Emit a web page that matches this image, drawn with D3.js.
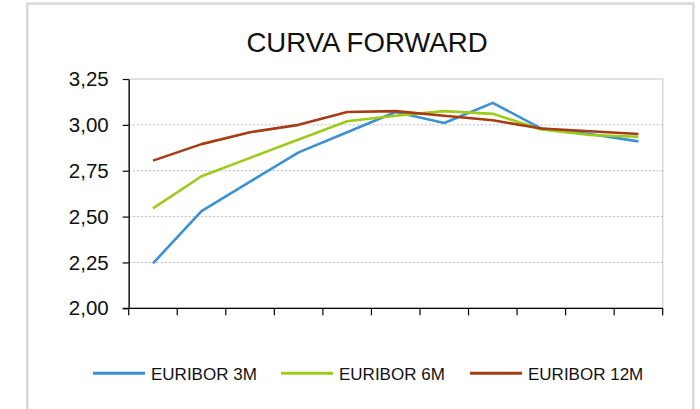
<!DOCTYPE html>
<html>
<head>
<meta charset="utf-8">
<script src="https://cdn.jsdelivr.net/npm/d3@7/dist/d3.min.js"></script>
<style>
  html, body { margin: 0; padding: 0; background: #ffffff; }
  svg { display: block; font-family: "Liberation Sans", Arial, sans-serif; }
</style>
</head>
<body>
<svg id="chart" width="700" height="409"></svg>
<script>
const title = "CURVA FORWARD";
const categories = ["1","2","3","4","5","6","7","8","9","10","11"];
const euribor3m  = [2.245, 2.53, 2.69, 2.85, 2.96, 3.07, 3.01, 3.12, 2.98, 2.95, 2.91];
const euribor6m  = [2.545, 2.72, 2.82, 2.92, 3.02, 3.05, 3.075, 3.06, 2.975, 2.945, 2.935];
const euribor12m = [2.805, 2.895, 2.96, 3.00, 3.07, 3.075, 3.05, 3.025, 2.98, 2.965, 2.95];
const seriesNames = ["EURIBOR 3M", "EURIBOR 6M", "EURIBOR 12M"];
const seriesColors = ["#3B91D1", "#9CCB19", "#A53C13"];
const yTicks = [2.00, 2.25, 2.50, 2.75, 3.00, 3.25];

const series = [euribor3m, euribor6m, euribor12m].map((vals, i) => ({
  name: seriesNames[i], color: seriesColors[i], values: vals
}));

const svg = d3.select("#chart");

// outer chart frame
svg.append("rect")
  .attr("x", 27.3).attr("y", 3.6).attr("width", 666).attr("height", 430)
  .attr("fill", "#ffffff").attr("stroke", "#d9d9d9").attr("stroke-width", 2.6);

const plot = { left: 128.7, right: 662.7, top: 79, bottom: 308.3 };

const x = d3.scaleBand().domain(categories).range([plot.left, plot.right]).padding(0);
const y = d3.scaleLinear().domain([2.0, 3.25]).range([plot.bottom, plot.top]);

// title
svg.append("text")
  .attr("x", 367).attr("y", 51.7)
  .attr("text-anchor", "middle")
  .attr("font-size", 27.6)
  .attr("fill", "#111")
  .text(title);

// plot area border (light grey top/right)
svg.append("rect")
  .attr("x", plot.left).attr("y", plot.top)
  .attr("width", plot.right - plot.left).attr("height", plot.bottom - plot.top)
  .attr("fill", "none").attr("stroke", "#d9d9d9").attr("stroke-width", 1.6);

// gridlines
svg.append("g")
  .selectAll("line")
  .data(yTicks.filter(t => t > 2.0 && t < 3.25))
  .join("line")
  .attr("x1", plot.left).attr("x2", plot.right)
  .attr("y1", d => y(d)).attr("y2", d => y(d))
  .attr("stroke", "#b8b8b8").attr("stroke-width", 1)
  .attr("stroke-dasharray", "2,2");

// y axis
const fmt = d => d3.format(".2f")(d).replace(".", ",");
const yAxis = svg.append("g")
  .attr("transform", `translate(${plot.left},0)`)
  .call(d3.axisLeft(y).tickValues(yTicks).tickFormat(fmt).tickSize(6).tickPadding(14).tickSizeOuter(0));
yAxis.select(".domain").attr("stroke", "#000").attr("stroke-width", 1.3);
yAxis.selectAll(".tick line").attr("stroke", "#000").attr("stroke-width", 1.2);
yAxis.selectAll(".tick text")
  .attr("font-size", 20.5).attr("fill", "#111")
  .attr("font-family", "Liberation Sans, Arial, sans-serif");

// x axis with ticks at band boundaries
const xAxis = svg.append("g")
  .attr("transform", `translate(0,${plot.bottom})`);
xAxis.append("line")
  .attr("x1", plot.left - 6).attr("x2", plot.right)
  .attr("y1", 0).attr("y2", 0)
  .attr("stroke", "#000").attr("stroke-width", 1.3);
const boundaries = categories.map(c => x(c)).concat([x(categories[categories.length - 1]) + x.bandwidth()]);
xAxis.selectAll("line.tk")
  .data(boundaries)
  .join("line")
  .attr("class", "tk")
  .attr("x1", d => d).attr("x2", d => d)
  .attr("y1", 0).attr("y2", 7)
  .attr("stroke", "#000").attr("stroke-width", 1.2);

// lines
const line = d3.line()
  .x((d, i) => x(categories[i]) + x.bandwidth() / 2)
  .y(d => y(d));

svg.append("g")
  .selectAll("path")
  .data(series)
  .join("path")
  .attr("d", d => line(d.values))
  .attr("fill", "none")
  .attr("stroke", d => d.color)
  .attr("stroke-width", 2.6)
  .attr("stroke-linejoin", "round");

// legend
const legendX = [93, 281, 470];
const legend = svg.append("g");
const items = legend.selectAll("g")
  .data(series)
  .join("g")
  .attr("transform", (d, i) => `translate(${legendX[i]},373.3)`);
items.append("line")
  .attr("x1", 0).attr("x2", 52).attr("y1", 0).attr("y2", 0)
  .attr("stroke", d => d.color).attr("stroke-width", 3);
items.append("text")
  .attr("x", 58).attr("y", 6.8)
  .attr("font-size", 17).attr("fill", "#111")
  .text(d => d.name);
</script>
</body>
</html>
